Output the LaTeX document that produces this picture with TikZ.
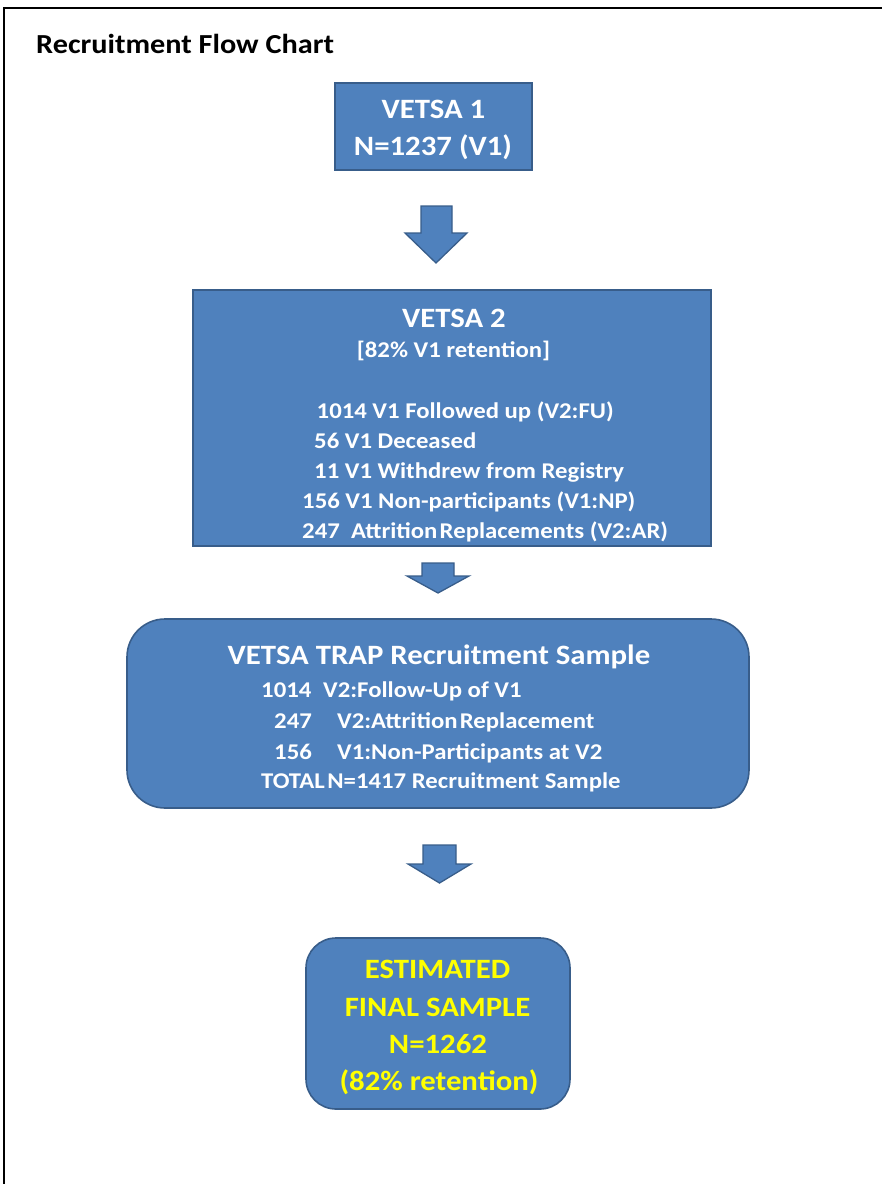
\documentclass[tikz,border=0pt]{standalone}
\usepackage{fontspec}
\setmainfont{Carlito}[FakeStretch=1.1]
\definecolor{boxfill}{HTML}{4F81BD}
\definecolor{boxline}{HTML}{385D8A}
\definecolor{yel}{HTML}{FFFF00}
\tikzset{
  boxshape/.style={draw=boxline, fill=boxfill, line width=1.6pt, inner sep=0pt},
  blockarrow/.style={draw=boxline, fill=boxfill, line width=1.3pt, line join=miter},
  big/.style={inner sep=0pt, font=\fontsize{28}{30}\selectfont\bfseries, text=white},
  small/.style={inner sep=0pt, font=\fontsize{22.5}{26}\selectfont\bfseries, text=white},
  bigyel/.style={inner sep=0pt, font=\fontsize{28}{30}\selectfont\bfseries, text=yel},
}
\begin{document}
\begin{tikzpicture}[x=1pt,y=-1pt]
\useasboundingbox (0,0) rectangle (882,1184);
% frame (top and left edges)
\draw[line width=2.5pt] (4,1184) -- (4,8) -- (882,8);
% title
\node[inner sep=0pt, anchor=base west, font=\fontsize{27.5}{30}\selectfont\bfseries] (title) at (36,53) {Recruitment Flow Chart};
% box 1
\node[boxshape, minimum width=197pt, minimum height=87pt] (v1) at (433.5,126.5) {};
\node[big, anchor=base] (v1a) at (433.5,118) {VETSA 1};
\node[big, anchor=base] (v1b) at (433,155) {N=1237 (V1)};
% arrow 1
\draw[blockarrow] (421,206) -- (452,206) -- (452,233) -- (467,233) -- (436,263) -- (405,233) -- (421,233) -- cycle;
% box 2
\node[boxshape, minimum width=518pt, minimum height=256pt] (v2) at (452,418) {};
\node[big, anchor=base] (v2a) at (454,327) {VETSA 2};
\node[small, anchor=base] (v2b) at (453.5,357) {[82\% V1 retention]};
\node[small, anchor=base west] (v2c) at (316.5,418) {1014 V1 Followed up (V2:FU)};
\node[small, anchor=base west] (v2d) at (314,448) {56 V1 Deceased};
\node[small, anchor=base west] (v2e) at (314,478) {11 V1 Withdrew from Registry};
\node[small, anchor=base west] (v2f) at (302,508) {156 V1 Non-participants (V1:NP)};
\node[small, anchor=base west] (v2g) at (302,538) {247\ \ Attrition\hspace{0.1em}Replacements (V2:AR)};
% arrow 2
\draw[blockarrow] (422,563) -- (454,563) -- (454,576) -- (469,576) -- (438,593) -- (407,576) -- (422,576) -- cycle;
% box 3
\node[boxshape, rounded corners=38pt, minimum width=622pt, minimum height=189pt] (trap) at (438,713.5) {};
\node[big, anchor=base] (t0) at (439,664) {VETSA TRAP Recruitment Sample};
\node[small, anchor=base west] (t1n) at (261,697.5) {1014};
\node[small, anchor=base west] (t1t) at (323,697.5) {V2:Follow-Up of V1};
\node[small, anchor=base west] (t2n) at (274,728.5) {247};
\node[small, anchor=base west] (t2t) at (337,728.5) {V2:Attrition\hspace{0.1em}Replacement};
\node[small, anchor=base west] (t3n) at (274,759) {156};
\node[small, anchor=base west] (t3t) at (337,759) {V1:Non-Participants at V2};
\node[small, anchor=base west] (t4) at (261,788.5) {TOTAL\hspace{0.12em}N=1417 Recruitment Sample};
% arrow 3
\draw[blockarrow] (423,845) -- (456,845) -- (456,864) -- (471,864) -- (439.5,883) -- (408,864) -- (423,864) -- cycle;
% box 4
\node[boxshape, rounded corners=30pt, minimum width=264pt, minimum height=171pt] (final) at (438,1023.5) {};
\node[bigyel, anchor=base] (f1) at (437.5,978) {ESTIMATED};
\node[bigyel, anchor=base] (f2) at (437.5,1016.5) {FINAL SAMPLE};
\node[bigyel, anchor=base] (f3) at (438,1053) {N=1262};
\node[bigyel, anchor=base] (f4) at (439,1090) {(82\% retention)};
\end{tikzpicture}
\end{document}
